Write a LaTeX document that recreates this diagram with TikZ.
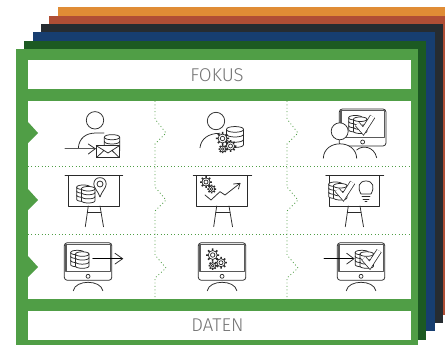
\documentclass[tikz,border=0pt]{standalone}
\usepackage{fontspec}
\setmainfont{Fira Sans Light}
\definecolor{cOrange}{HTML}{E08C35}
\definecolor{cRed}{HTML}{B04E35}
\definecolor{cBlack}{HTML}{262C31}
\definecolor{cNavy}{HTML}{173E70}
\definecolor{cDark}{HTML}{1C5A22}
\definecolor{cGreen}{HTML}{509E46}
\definecolor{cInk}{HTML}{2A2A2A}
\tikzset{
  ink/.style={draw=cInk,line width=0.75pt,line cap=round,line join=round},
  inkfill/.style={ink,fill=white},
  grid/.style={draw=cGreen,line width=0.8pt,dash pattern=on 0.9pt off 2.5pt},
  label/.style={text=black!55,font=\fontsize{18.5}{18.5}\selectfont,inner sep=0pt,anchor=center},
}
% database stack centred at (x,y)
\newcommand{\dbstack}[3]{%
 \begin{scope}[shift={(#1,#2)},scale=#3]
  \path[inkfill] (-9,-8) .. controls (-9,-12) and (9,-12) .. (9,-8) -- (9,8) .. controls (9,12) and (-9,12) .. (-9,8) -- cycle;
  \draw[ink] (-9,-8) .. controls (-9,-4) and (9,-4) .. (9,-8);
  \draw[ink] (-9,-3) .. controls (-9,1) and (9,1) .. (9,-3);
  \draw[ink] (-9,2.5) .. controls (-9,6.5) and (9,6.5) .. (9,2.5);
 \end{scope}}
\newcommand{\dbdouble}[3]{\dbstack{#1-3.5*#3}{#2-1*#3}{#3}\dbstack{#1+3*#3}{#2+1*#3}{#3}}
% gear centred at (x,y) with radius r
\newcommand{\gearat}[3]{%
 \begin{scope}[shift={(#1,#2)}]
  \draw[ink,line width=1.5pt,line cap=butt] \foreach \a in {0,45,...,315} {(\a:#3*0.6pt) -- (\a:#3*1.05pt)};
  \draw[inkfill,line width=0.7pt] (0,0) circle[radius=#3*0.72pt];
  \draw[ink,line width=0.7pt] (0,0) circle[radius=#3*0.36pt];
 \end{scope}}
% check mark relative to stack
\newcommand{\checkat}[3]{%
 \begin{scope}[shift={(#1,#2)},scale=#3]
  \draw[cInk,line width=5.8pt,line join=miter] (-2,-1) -- (5,7) -- (16,-10);
  \draw[white,line width=4.3pt,line join=miter] (-2,-1) -- (5,7) -- (16,-10);
 \end{scope}}
% flip chart
\newcommand{\board}[6]{%
  \draw[inkfill] (#3,175.3) rectangle (#4,206);
  \draw[ink] (#1,175.3) -- (#2,175.3);
  \draw[ink] (#5,206) -- ({#5-3},226.7) (#6,206) -- ({#6+3.5},226.7);
  \draw[ink] ({#5-1},212.3) -- ({#6+1},212.3);
}
% monitor: left, right, top, bottom of the outer frame
\newcommand{\monitor}[4]{%
  \draw[ink,fill=white,rounded corners=3pt] (#1,#3) rectangle (#2,#4);
  \draw[ink,line width=1.1pt,draw=black!65] ({#1+1.7},{#3+1.7}) rectangle ({#2-1.7},{#3+28.7});
  \draw[ink,line width=0.7pt] ({(#1+#2)/2},{#4-4}) circle[radius=2pt];
}
\newcommand{\lowmonitor}[1]{%
  \monitor{#1}{#1+47.5}{242.7}{280.3}
  \draw[ink] ({#1+9},290.7) .. controls ({#1+11},279.5) and ({#1+36.5},279.5) .. ({#1+38.5},290.7);
}
\begin{document}
\begin{tikzpicture}[x=1pt,y=-1pt]
\useasboundingbox (0,0) rectangle (445,345);
\fill[white] (0,0) rectangle (445,345);
% stacked layers
\fill[cOrange] (58,7) rectangle (445,307);
\fill[cRed] (49,16) rectangle (445,315);
\fill[cBlack] (41,24) rectangle (443,323);
\fill[cNavy] (33,32) rectangle (435,331);
\fill[cDark] (24,41) rectangle (426,340);
\fill[cGreen] (16,49) rectangle (418,345);
% white panels
\fill[white] (28,60) rectangle (411,89);
\fill[white] (28,311) rectangle (411,340);
\fill[white] (28,101) rectangle (411,299);
\node[label] (fokus) at (217,75) {FOKUS};
\node[label] (daten) at (217.5,325) {DATEN};
% row tabs
\fill[cGreen] (28,122) -- (38,133) -- (28,143) -- cycle;
\fill[cGreen] (28,189) -- (38,200) -- (28,210) -- cycle;
\fill[cGreen] (28,256) -- (38,267) -- (28,277) -- cycle;
% dotted grid
\draw[grid] (28,166) -- (411,166);
\draw[grid] (28,234) -- (411,234);
\draw[grid] (155,101) -- (155,119) -- (166,133) -- (155,144) -- (155,187) -- (166,200) -- (155,211) -- (155,255) -- (166,268) -- (155,278) -- (155,299);
\draw[grid] (287,101) -- (287,119) -- (298,133) -- (287,144) -- (287,187) -- (298,200) -- (287,211) -- (287,255) -- (298,268) -- (287,278) -- (287,299);
% row 1, column 1
\draw[ink] (95,120.3) circle[radius=8.7pt];
\draw[ink] (78.3,148.3) .. controls (79,138) and (86,133) .. (96,133) -- (104,133);
\dbstack{112}{144}{0.85}
\draw[ink,line width=1pt,draw=black!65] (65,148.7) -- (95.3,148.7);
\draw[ink] (88.3,144) -- (95.3,148.7) -- (88.3,154);
\draw[inkfill,line width=1pt] (96.3,145.7) rectangle (119.3,157.7);
\draw[ink] (96.3,145.7) -- (108,153) -- (119.3,145.7) (96.3,157.7) -- (104,150.5) (119.3,157.7) -- (112,150.5);
% row 1, column 2
\draw[ink] (216,121) circle[radius=8.7pt];
\draw[ink] (200,147.7) .. controls (201,139) and (208,133.3) .. (220,133.3);
\dbstack{235}{137}{0.95}
\gearat{222.5}{138.5}{6.2}
\gearat{230.5}{146}{5.6}
\gearat{222.7}{149}{4}
% row 1, column 3
\monitor{339.3}{386}{109}{146}
\dbdouble{358}{124.5}{0.75}
\checkat{359}{125}{0.85}
\draw[ink] (356.7,150) .. controls (362,145) and (374,146) .. (376.7,157.7);
\draw[inkfill] (339.7,131.3) circle[radius=8.5pt];
\draw[inkfill] (323.3,158.3) .. controls (324,139) and (356,139) .. (356.7,158.3);
% row 2
\board{65}{122.7}{68.7}{119}{88.3}{100}
\begin{scope}[shift={(100,184)}]
 \draw[inkfill] (-6.2,0) .. controls (-6.2,-8.5) and (6.2,-8.5) .. (6.2,0) .. controls (6.2,4) and (2,7) .. (0,13) .. controls (-2,7) and (-6.2,4) .. (-6.2,0) -- cycle;
 \draw[ink] (0,0) circle[radius=3pt];
\end{scope}
\dbdouble{86}{194}{0.75}
\board{193.3}{251.7}{196.7}{247.7}{216.7}{229}
\gearat{206}{182}{5.6}
\gearat{211.7}{189}{4.2}
\draw[ink] (205,195) -- (211,200) -- (220,191.7) -- (225,195) -- (240,183.3);
\draw[ink] (233.5,184) -- (240,183.3) -- (238.5,189);
\board{325.7}{383.7}{329}{379.7}{348.3}{360}
\dbdouble{338}{191}{0.75}
\checkat{339}{191}{0.85}
\draw[ink] (361,194) .. controls (357,187) and (359,181) .. (366,181) .. controls (373,181) and (375,187) .. (371,194) -- cycle;
\draw[ink] (362,196.5) -- (370,196.5) (363,199) -- (369,199) (365,201) -- (367,201);
% row 3
\lowmonitor{64.3}
\dbdouble{80}{259.3}{0.75}
\draw[ink,draw=black] (92.7,258.7) -- (122.7,258.7);
\draw[ink] (115,253.3) -- (122.7,258.7) -- (115,264);
\lowmonitor{198.3}
\gearat{212.7}{255}{6.2}
\gearat{221}{262.7}{5.6}
\gearat{212.7}{265.7}{4}
\lowmonitor{337.3}
\dbdouble{364.5}{259.3}{0.75}
\checkat{365.5}{259.3}{0.85}
\draw[ink,draw=black] (324,258.7) -- (354,258.7);
\draw[ink] (346.7,253.3) -- (354,258.7) -- (346.7,264);
\end{tikzpicture}
\end{document}
